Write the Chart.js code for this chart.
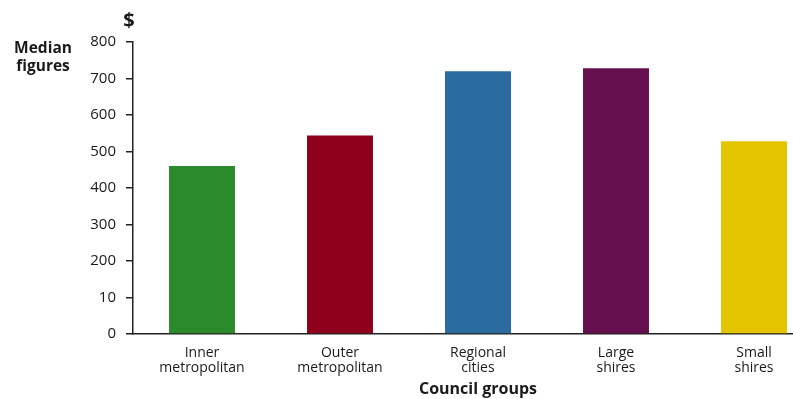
<!DOCTYPE html>
<html>
<head>
<meta charset="utf-8">
<script src="https://cdn.jsdelivr.net/npm/chart.js@4.4.1/dist/chart.umd.min.js"></script>
<style>
  html, body { margin: 0; padding: 0; background: #fff; overflow: hidden; }
  #wrap { position: relative; width: 825px; height: 399px; }
</style>
</head>
<body>
<div id="wrap"><canvas id="chart"></canvas></div>
<script>
'use strict';

// CHART DATA
const groups = [['Inner', 'metropolitan'], ['Outer', 'metropolitan'], ['Regional', 'cities'], ['Large', 'shires'], ['Small', 'shires']];
const medians = [460, 544, 720, 728, 528];
const barColors = ['#2b8a2b', '#8f001d', '#2a6ba0', '#650f4f', '#e3c500'];
const yTickValues = [0, 100, 200, 300, 400, 500, 600, 700, 800];
const yTickLabels = ['0', '10', '200', '300', '400', '500', '600', '700', '800'];

const FONT = '"Open Sans", "Noto Sans", sans-serif';
const INK = '#1a1a1a';

// draws the "$" unit and the stacked "Median figures" heading
const headings = {
  id: 'headings',
  afterDraw(chart) {
    const ctx = chart.ctx;
    ctx.save();
    ctx.fillStyle = INK;
    ctx.textAlign = 'center';
    ctx.textBaseline = 'middle';
    ctx.font = 'bold 20px ' + FONT;
    ctx.fillText('$', 129, 21);
    ctx.font = 'bold 15.5px ' + FONT;
    ctx.fillText('Median', 43, 49);
    ctx.fillText('figures', 43, 67);
    ctx.restore();
  }
};

let ctx = document.getElementById('chart');

new Chart(ctx, {
  type: 'bar',
  data: {
    labels: groups,
    datasets: [{
      data: medians,
      backgroundColor: barColors,
      borderWidth: 0,
      barPercentage: 0.478,
      categoryPercentage: 1
    }]
  },
  options: {
    responsive: true,
    maintainAspectRatio: false,
    animation: false,
    layout: { padding: { top: 42, right: 2, bottom: 0, left: 0 } },
    plugins: {
      legend: { display: false },
      tooltip: { enabled: false }
    },
    scales: {
      x: {
        afterFit(scale) {
          scale.height = 65;
        },
        grid: { display: false, drawTicks: false },
        border: { display: true, color: '#222', width: 1.5 },
        ticks: {
          color: INK,
          font: { family: FONT, size: 14, lineHeight: 1.05 },
          padding: 12,
          maxRotation: 0,
          autoSkip: false
        },
        title: {
          display: true,
          text: 'Council groups',
          color: INK,
          font: { family: FONT, size: 16, weight: 'bold' },
          padding: { top: 4, bottom: 0 }
        }
      },
      y: {
        min: 0,
        max: 800,
        afterBuildTicks(scale) {
          scale.ticks = yTickValues.map(v => ({ value: v }));
        },
        afterFit(scale) {
          scale.width = 133;
        },
        grid: {
          drawOnChartArea: false,
          drawTicks: true,
          tickLength: 7,
          color: '#222',
          lineWidth: 1.5
        },
        border: { display: true, color: '#222', width: 1.5 },
        ticks: {
          color: INK,
          font: { family: FONT, size: 15 },
          padding: 10,
          callback: (value) => yTickLabels[yTickValues.indexOf(value)]
        }
      }
    }
  },
  plugins: [headings]
});
</script>
</body>
</html>
